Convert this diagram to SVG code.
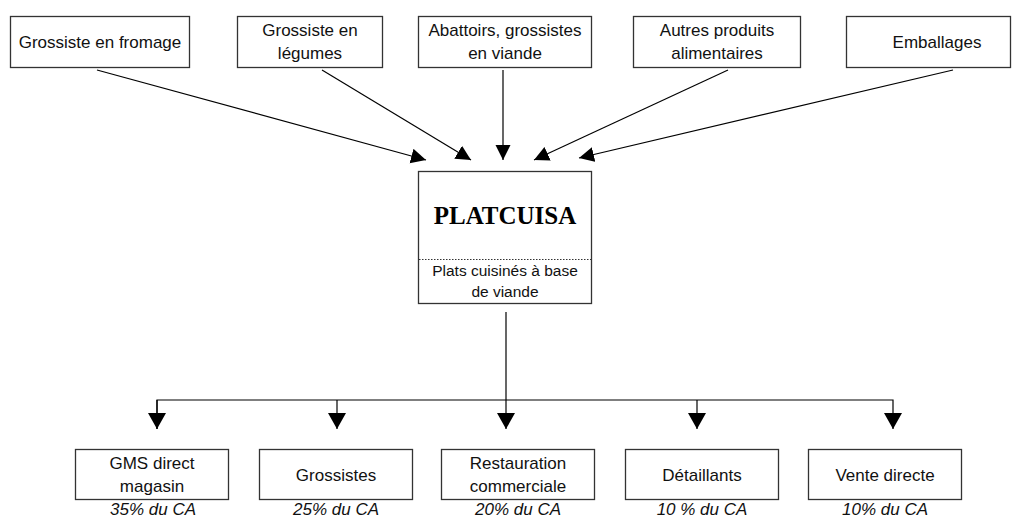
<svg xmlns="http://www.w3.org/2000/svg" width="1014" height="517" viewBox="0 0 1014 517">
<style>
.box{fill:#fff;stroke:#333;stroke-width:1.3}
.t{font-family:"Liberation Sans",Arial,sans-serif;font-size:17px;fill:#111;text-anchor:middle}
.s{font-family:"Liberation Sans",Arial,sans-serif;font-size:15.5px;fill:#111;text-anchor:middle}
.p{font-family:"Liberation Sans",Arial,sans-serif;font-size:17px;font-style:italic;fill:#111;text-anchor:middle}
.title{font-family:"Liberation Serif","Times New Roman",serif;font-size:25px;font-weight:bold;fill:#000;text-anchor:middle}
.ln{stroke:#000;stroke-width:1.2;fill:none}
</style>
<defs>
<marker id="a" markerUnits="userSpaceOnUse" markerWidth="16" markerHeight="16" refX="15" refY="7.5" orient="auto"><path d="M0,0 L15,7.5 L0,15 z" fill="#000"/></marker>
<marker id="b" markerUnits="userSpaceOnUse" markerWidth="18" markerHeight="20" refX="16" refY="9" orient="auto"><path d="M0,0 L16,9 L0,18 z" fill="#000"/></marker>
</defs>
<g id="connectors">
<line class="ln" x1="97" y1="70" x2="426" y2="160" marker-end="url(#a)"/>
<line class="ln" x1="322" y1="70" x2="471" y2="160" marker-end="url(#a)"/>
<line class="ln" x1="503" y1="70" x2="503" y2="160" marker-end="url(#a)"/>
<line class="ln" x1="728" y1="70" x2="534" y2="160" marker-end="url(#a)"/>
<line class="ln" x1="953" y1="70" x2="579" y2="158" marker-end="url(#a)"/>
<line class="ln" x1="506" y1="312" x2="506" y2="429" marker-end="url(#b)"/>
<polyline class="ln" points="157,429 157,400 893,400 893,429" marker-end="url(#b)"/>
<line class="ln" x1="157" y1="400" x2="157" y2="429" marker-end="url(#b)"/>
<line class="ln" x1="337" y1="400" x2="337" y2="429" marker-end="url(#b)"/>
<line class="ln" x1="697" y1="400" x2="697" y2="429" marker-end="url(#b)"/>
</g>
<g id="n-fromage"><rect class="box" x="10.5" y="16.5" width="179" height="51"/><text class="t" x="100" y="48">Grossiste en fromage</text></g>
<g id="n-legumes"><rect class="box" x="237.5" y="16.5" width="145" height="51"/><text class="t" x="310" y="36">Grossiste en</text><text class="t" x="310" y="59">légumes</text></g>
<g id="n-viande"><rect class="box" x="418.5" y="16.5" width="173" height="51"/><text class="t" x="505" y="36">Abattoirs, grossistes</text><text class="t" x="505" y="59">en viande</text></g>
<g id="n-autres"><rect class="box" x="633.5" y="16.5" width="167" height="51"/><text class="t" x="717" y="36">Autres produits</text><text class="t" x="717" y="59">alimentaires</text></g>
<g id="n-emballages"><rect class="box" x="846.5" y="16.5" width="164" height="51"/><text class="t" x="937" y="48">Emballages</text></g>
<g id="n-platcuisa"><rect class="box" x="418.5" y="171.5" width="173" height="132"/><line x1="419" y1="259.5" x2="591" y2="259.5" stroke="#333" stroke-width="1" stroke-dasharray="1.5,1.5"/><text class="title" x="505" y="224">PLATCUISA</text><text class="s" x="505" y="276">Plats cuisinés à base</text><text class="s" x="505" y="297">de viande</text></g>
<g id="n-gms"><rect class="box" x="75.5" y="449.5" width="153" height="50"/><text class="t" x="152" y="469">GMS direct</text><text class="t" x="152" y="492">magasin</text><text class="p" x="153" y="515">35% du CA</text></g>
<g id="n-grossistes"><rect class="box" x="259.5" y="449.5" width="153" height="50"/><text class="t" x="336" y="481">Grossistes</text><text class="p" x="336" y="515">25% du CA</text></g>
<g id="n-restauration"><rect class="box" x="441.5" y="449.5" width="153" height="50"/><text class="t" x="518" y="469">Restauration</text><text class="t" x="518" y="492">commerciale</text><text class="p" x="518" y="515">20% du CA</text></g>
<g id="n-detaillants"><rect class="box" x="625.5" y="449.5" width="153" height="50"/><text class="t" x="702" y="481">Détaillants</text><text class="p" x="702" y="515">10 % du CA</text></g>
<g id="n-vente"><rect class="box" x="808.5" y="449.5" width="153" height="50"/><text class="t" x="885" y="481">Vente directe</text><text class="p" x="885" y="515">10% du CA</text></g>
</svg>
